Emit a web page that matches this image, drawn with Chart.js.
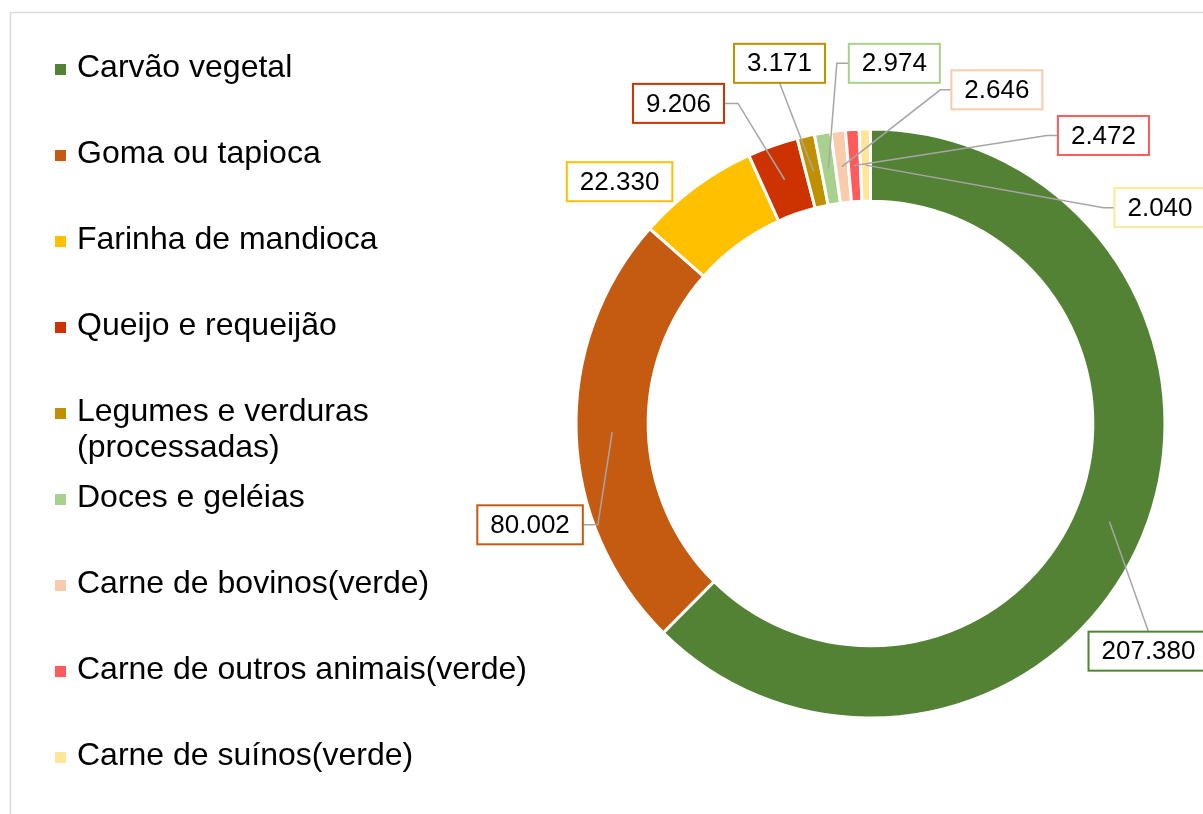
<!DOCTYPE html>
<html>
<head>
<meta charset="utf-8">
<script src="https://cdn.jsdelivr.net/npm/chart.js@4.4.0/dist/chart.umd.min.js"></script>
<style>
  html, body { margin: 0; padding: 0; background: #fff; }
  #wrap { width: 1203px; height: 814px; }
</style>
</head>
<body>
<div id="wrap"><canvas id="donutChart" width="1203" height="814"></canvas></div>
<script>
const categories = [
    'Carvão vegetal',
    'Goma ou tapioca',
    'Farinha de mandioca',
    'Queijo e requeijão',
    ['Legumes e verduras', '(processadas)'],
    'Doces e geléias',
    'Carne de bovinos(verde)',
    'Carne de outros animais(verde)',
    'Carne de suínos(verde)'
];
const values = [207380, 80002, 22330, 9206, 3171, 2974, 2646, 2472, 2040];
const colors = ['#548235', '#C55A11', '#FFC000', '#CC3300', '#BF9000', '#A9D18E', '#F8CBAD', '#FF5B5B', '#FFE699'];

// where each value box sits, in units of the outer radius from the centre,
// and which side of the box the leader line leaves from
const labelPlacement = [
    { dx: 0.944, dy: 0.773, side: 'top', elbow: 0 },
    { dx: -1.156, dy: 0.344, side: 'right', elbow: 15 },
    { dx: -0.852, dy: -0.821, side: 'none', elbow: 0 },
    { dx: -0.652, dy: -1.087, side: 'right', elbow: 14 },
    { dx: -0.309, dy: -1.223, side: 'bottom', elbow: 0 },
    { dx: 0.081, dy: -1.223, side: 'left', elbow: 12 },
    { dx: 0.429, dy: -1.133, side: 'left', elbow: 11 },
    { dx: 0.791, dy: -0.978, side: 'left', elbow: 11 },
    { dx: 0.983, dy: -0.733, side: 'left', elbow: 11 }
];

function formatValue(v) {
    return String(v).replace(/\B(?=(\d{3})+(?!\d))/g, '.');
}

const FONT = '"Liberation Sans", Arial, sans-serif';

const calloutPlugin = {
    id: 'callouts',
    beforeDraw(chart) {
        const ctx = chart.ctx;
        ctx.save();
        ctx.strokeStyle = '#D9D9D9';
        ctx.lineWidth = 1.5;
        ctx.strokeRect(10.5, 12.5, 1400, 1000);
        ctx.restore();
    },
    afterDatasetsDraw(chart) {
        const ctx = chart.ctx;
        const meta = chart.getDatasetMeta(0);
        const first = meta.data[0];
        const cx = first.x, cy = first.y, R = first.outerRadius;
        ctx.save();
        ctx.font = '26px ' + FONT;
        const boxes = meta.data.map((arc, i) => {
            const p = labelPlacement[i];
            const text = formatValue(values[i]);
            const w = ctx.measureText(text).width + 26;
            const h = 39;
            const bx = cx + p.dx * R, by = cy + p.dy * R;
            return { text, w, h, bx, by, p, anchor: arc.getCenterPoint() };
        });
        // leader lines
        ctx.strokeStyle = '#A6A6A6';
        ctx.lineWidth = 1.5;
        boxes.forEach(b => {
            if (b.p.side === 'none') return;
            let sx, sy, ex, ey;
            if (b.p.side === 'left') { sx = b.bx - b.w / 2; sy = b.by; ex = sx - b.p.elbow; ey = sy; }
            else if (b.p.side === 'right') { sx = b.bx + b.w / 2; sy = b.by; ex = sx + b.p.elbow; ey = sy; }
            else if (b.p.side === 'top') { sx = b.bx; sy = b.by - b.h / 2; ex = sx; ey = sy; }
            else { sx = b.bx; sy = b.by + b.h / 2; ex = sx; ey = sy; }
            ctx.beginPath();
            ctx.moveTo(sx, sy);
            ctx.lineTo(ex, ey);
            ctx.lineTo(b.anchor.x, b.anchor.y);
            ctx.stroke();
        });
        // value boxes
        boxes.forEach((b, i) => {
            ctx.fillStyle = '#fff';
            ctx.fillRect(b.bx - b.w / 2, b.by - b.h / 2, b.w, b.h);
            ctx.strokeStyle = colors[i];
            ctx.lineWidth = 2;
            ctx.strokeRect(b.bx - b.w / 2, b.by - b.h / 2, b.w, b.h);
            ctx.fillStyle = '#000';
            ctx.textAlign = 'center';
            ctx.textBaseline = 'middle';
            ctx.fillText(b.text, b.bx, b.by + 1);
        });
        ctx.restore();
    },
    afterDraw(chart) {
        // legend on the left
        const ctx = chart.ctx;
        ctx.save();
        ctx.font = '32px ' + FONT;
        ctx.textBaseline = 'middle';
        ctx.textAlign = 'left';
        chart.data.labels.forEach((label, i) => {
            const y = 68 + i * 86;
            ctx.fillStyle = colors[i];
            ctx.fillRect(55, y - 4, 11, 11);
            ctx.fillStyle = '#000';
            const lines = Array.isArray(label) ? label : [label];
            lines.forEach((line, j) => ctx.fillText(line, 77, y + j * 36));
        });
        ctx.restore();
    }
};

const data = {
    labels: categories,
    datasets: [{
        data: values,
        backgroundColor: colors,
        borderColor: '#ffffff',
        borderWidth: 3,
        hoverOffset: 0,
        offset: 0
    }]
};

const config = {
    type: 'doughnut',
    data: data,
    options: {
        responsive: false,
        animation: false,
        events: [],
        cutout: '75.5%',
        layout: {
            padding: { left: 574.5, right: 36.5, top: 127.5, bottom: 94.5 }
        },
        plugins: {
            legend: { display: false },
            tooltip: { enabled: false }
        }
    },
    plugins: [calloutPlugin]
};

new Chart(document.getElementById('donutChart').getContext('2d'), config);
</script>
</body>
</html>
